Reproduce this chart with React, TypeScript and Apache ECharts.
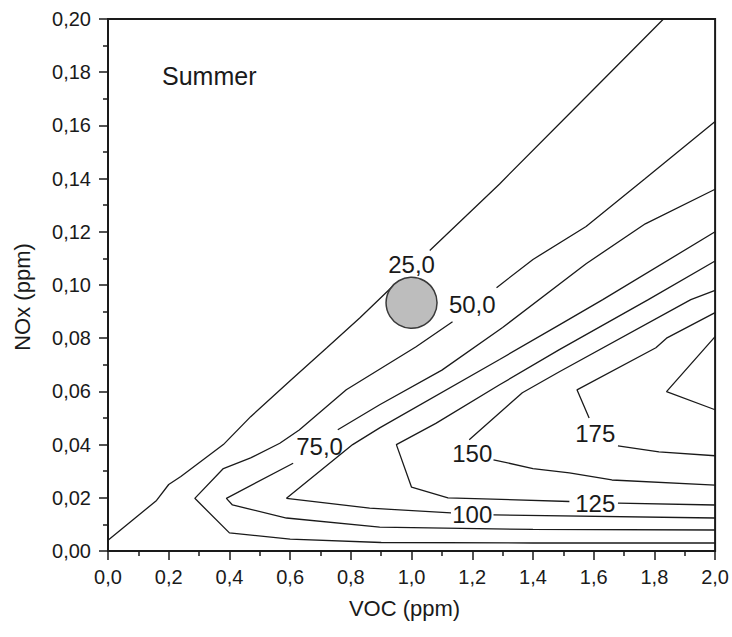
import React, { useEffect, useRef } from "react";
import * as echarts from "echarts";

// Contour lines (VOC ppm, NOx ppm); each contour split into segments where a label interrupts it
const c25a = [[0, 0.004], [0.16, 0.019], [0.2, 0.025], [0.24, 0.028], [0.38, 0.04], [0.47, 0.0505], [0.6, 0.064], [0.72, 0.0763], [0.83, 0.0877], [0.938, 0.0995]];
const c25b = [[1.06, 0.113], [1.29, 0.138], [1.56, 0.169], [1.83, 0.2]];
const c50a = [[2.0, 0.003], [1.4, 0.003], [0.9, 0.0032], [0.6, 0.0045], [0.4, 0.0068], [0.286, 0.0198], [0.38, 0.031], [0.47, 0.035], [0.566, 0.0405], [0.63, 0.0455], [0.785, 0.0606], [1.015, 0.0768], [1.135, 0.0862]];
const c50b = [[1.28, 0.099], [1.4, 0.1096], [1.575, 0.122], [1.77, 0.14], [2.0, 0.1615]];
const c75a = [[2.0, 0.0079], [1.4, 0.0081], [0.895, 0.009], [0.588, 0.0124], [0.41, 0.0173], [0.39, 0.0198], [0.61, 0.033]];
const c75b = [[0.757, 0.0456], [0.895, 0.055], [1.1, 0.068], [1.3, 0.084], [1.575, 0.108], [1.77, 0.123], [2.0, 0.136]];
const c100a = [[1.13, 0.0143], [0.862, 0.0161], [0.588, 0.0198], [0.806, 0.04], [0.895, 0.0463], [1.29, 0.072], [1.487, 0.085], [1.63, 0.0945], [2.0, 0.12]];
const c100b = [[1.27, 0.0136], [2.0, 0.0124]];
const c125a = [[1.52, 0.0186], [1.12, 0.02], [1.0, 0.024], [0.95, 0.04], [1.08, 0.048], [1.29, 0.0625], [1.487, 0.0757], [1.78, 0.0945], [2.0, 0.109]];
const c125b = [[1.68, 0.018], [2.0, 0.0173]];
const c150a = [[2.0, 0.0248], [1.66, 0.0267], [1.52, 0.0294], [1.4, 0.031], [1.27, 0.0343]];
const c150b = [[1.19, 0.0418], [1.365, 0.0595], [1.487, 0.0674], [1.92, 0.0945], [2.0, 0.098]];
const c175a = [[2.0, 0.0896], [1.84, 0.08], [1.805, 0.0764], [1.545, 0.0606], [1.585, 0.05]];
const c175b = [[1.68, 0.0395], [1.815, 0.0373], [2.0, 0.0358]];
const c200 = [[2.0, 0.0806], [1.84, 0.0599], [2.0, 0.0531]];

const contourSegments = [c25a, c25b, c50a, c50b, c75a, c75b, c100a, c100b, c125a, c125b, c150a, c150b, c175a, c175b, c200];

// Contour labels
const labelTexts = ["25,0", "50,0", "75,0", "100", "125", "150", "175"];
const labelX = [1.0, 1.2, 0.697, 1.2, 1.605, 1.2, 1.605];
const labelY = [0.1077, 0.0926, 0.0392, 0.0139, 0.0177, 0.0365, 0.044];

// Marked point
const markerPoint = [1.0, 0.0933];

const FONT = "'Liberation Sans', Arial, sans-serif";
const INK = "#1a1a1a";

export default function App() {
  const ref = useRef<HTMLDivElement>(null);
  useEffect(() => {
    if (!ref.current) return;
    const chart = echarts.init(ref.current, undefined, { renderer: "svg" });
    const lineSeries = contourSegments.map((seg) => ({
      type: "line",
      data: seg,
      showSymbol: false,
      symbol: "none",
      lineStyle: { color: INK, width: 1.3 },
      silent: true,
      z: 2,
    }));
    chart.setOption({
      animation: false,
      backgroundColor: "#ffffff",
      grid: {
        left: 108,
        right: 16,
        top: 19,
        bottom: 86,
        show: true,
        borderColor: INK,
        borderWidth: 2,
        backgroundColor: "transparent",
      },
      xAxis: {
        type: "value",
        min: 0,
        max: 2,
        interval: 0.2,
        name: "VOC (ppm)",
        nameLocation: "middle",
        nameGap: 46,
        nameTextStyle: { fontFamily: FONT, fontSize: 22, color: INK, padding: [0, 14, 0, 0] },
        axisLine: { show: true, lineStyle: { color: INK, width: 2 } },
        axisTick: { show: true, length: 9, lineStyle: { color: INK, width: 1.5 } },
        minorTick: { show: true, splitNumber: 2, length: 5, lineStyle: { color: INK, width: 1.5 } },
        splitLine: { show: false },
        axisLabel: {
          fontFamily: FONT,
          fontSize: 20,
          color: INK,
          margin: 16,
          formatter: (v: number) => v.toFixed(1).replace(".", ","),
        },
      },
      yAxis: {
        type: "value",
        min: 0,
        max: 0.2,
        interval: 0.02,
        name: "NOx (ppm)",
        nameLocation: "middle",
        nameGap: 75,
        nameRotate: 90,
        nameTextStyle: { fontFamily: FONT, fontSize: 22, color: INK, padding: [0, 24, 0, 0] },
        axisLine: { show: true, lineStyle: { color: INK, width: 2 } },
        axisTick: { show: true, length: 9, lineStyle: { color: INK, width: 1.5 } },
        minorTick: { show: true, splitNumber: 2, length: 5, lineStyle: { color: INK, width: 1.5 } },
        splitLine: { show: false },
        axisLabel: {
          fontFamily: FONT,
          fontSize: 20,
          color: INK,
          margin: 17,
          formatter: (v: number) => v.toFixed(2).replace(".", ","),
        },
      },
      series: [
        ...lineSeries,
        {
          type: "scatter",
          data: [markerPoint],
          symbol: "circle",
          symbolSize: 51,
          itemStyle: { color: "#bdbdbd", borderColor: "#3a3a3a", borderWidth: 1.5, opacity: 1 },
          silent: true,
          z: 5,
        },
        {
          type: "scatter",
          data: labelTexts.map((t, i) => ({ name: t, value: [labelX[i], labelY[i]] })),
          symbolSize: 0,
          itemStyle: { color: "transparent", opacity: 1 },
          silent: true,
          z: 6,
          label: {
            show: true,
            position: "inside",
            formatter: (p: any) => p.name,
            fontFamily: FONT,
            fontSize: 24,
            color: INK,
            opacity: 1,
            textBorderWidth: 0,
            textBorderColor: "transparent",
          },
        },
      ],
      graphic: [
        {
          type: "text",
          left: 162,
          top: 63,
          style: { text: "Summer", font: `25px ${FONT}`, fill: INK },
        },
      ],
    });
    return () => chart.dispose();
  }, []);
  return <div ref={ref} style={{ position: "fixed", left: 0, top: 0, width: 732, height: 637 }} />;
}
